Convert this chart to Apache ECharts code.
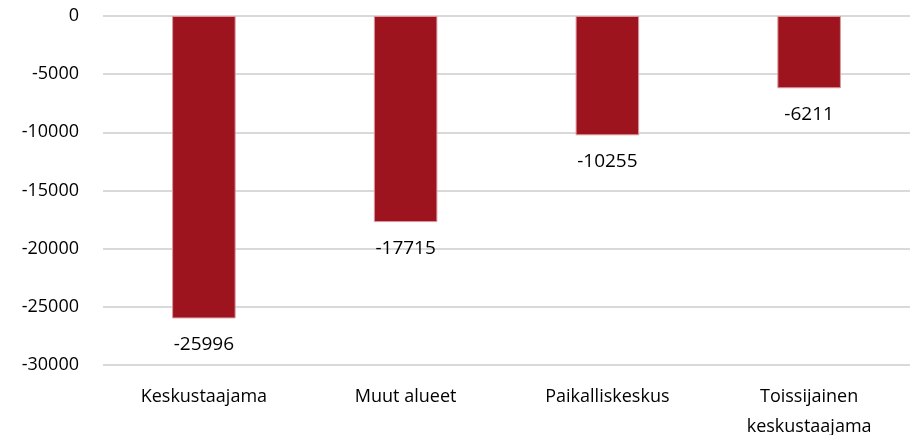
<!DOCTYPE html>
<html>
<head>
<meta charset="utf-8">
<script src="https://cdn.jsdelivr.net/npm/echarts@6/dist/echarts.min.js"></script>
<style>
  html, body { margin: 0; padding: 0; background: #fff; }
  #chart { width: 910px; height: 435px; }
</style>
</head>
<body>
<div id="chart"></div>
<script>
// 分类和数值
const categories = ['Keskustaajama', 'Muut alueet', 'Paikalliskeskus', 'Toissijainen\nkeskustaajama']
const values = [-25996, -17715, -10255, -6211]
const yTicks = { min: -30000, max: 0, interval: 5000 }

const chart = echarts.init(document.getElementById('chart'))
const option = {
  animation: false,
  textStyle: { fontFamily: 'Open Sans' },
  grid: {
    left: 103,
    right: 0,
    top: 16,
    bottom: 70,
    containLabel: false,
    // v6 默认会把标签挤进画布，这里关掉
    outerBoundsMode: 'none',
  },
  xAxis: {
    type: 'category',
    data: categories,
    position: 'bottom',
    axisLine: { show: false },
    axisTick: { show: false },
    axisLabel: {
      color: '#000',
      fontSize: 18,
      margin: 17,
      lineHeight: 30,
      interval: 0,
    },
  },
  yAxis: {
    type: 'value',
    min: yTicks.min,
    max: yTicks.max,
    interval: yTicks.interval,
    axisLine: { show: false },
    axisTick: { show: false },
    splitLine: { lineStyle: { color: '#d9d9d9', width: 2 } },
    axisLabel: {
      color: '#000',
      fontSize: 18,
      margin: 24,
      formatter: (v) => String(v),
    },
  },
  series: [
    {
      type: 'bar',
      data: values,
      barWidth: '31.5%',
      itemStyle: {
        color: '#9d141f',
        borderColor: '#d99aa0',
        borderWidth: 1,
      },
      label: {
        show: true,
        position: 'bottom',
        distance: 17,
        color: '#000',
        fontSize: 19,
      },
    },
  ],
}
chart.setOption(option)
</script>
</body>
</html>
